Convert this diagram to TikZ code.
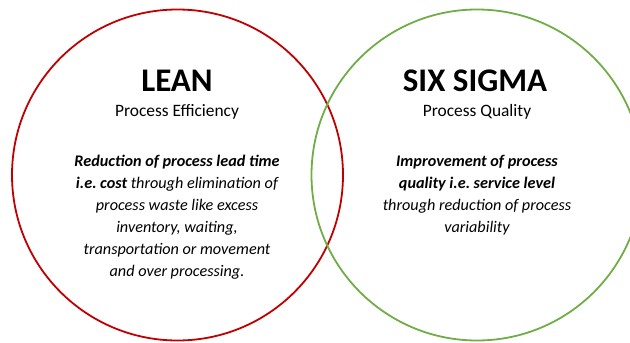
\documentclass[tikz,border=0pt]{standalone}
\usepackage{fontspec}
\setmainfont{Carlito}
\frenchspacing
\definecolor{leanred}{HTML}{C00000}
\definecolor{sigmagreen}{HTML}{70AD47}
\begin{document}
\begin{tikzpicture}[x=1pt,y=-1pt,
  ring/.style={draw, line width=1.8pt, circle, minimum size=331pt, inner sep=0pt},
  title/.style={anchor=base, font=\fontsize{33}{36}\selectfont\bfseries},
  subtitle/.style={anchor=base, font=\fontsize{17.4}{20}\selectfont},
  body/.style={anchor=base, align=center, font=\fontsize{16.2}{22}\selectfont\itshape\frenchspacing, inner sep=0pt}]
\useasboundingbox (0,0) rectangle (630,343);
\clip (0,0) rectangle (630,343);
\node[ring, draw=leanred] (lean) at (177.5,175) {};
\node[ring, draw=sigmagreen] (sigma) at (477,175) {};
\node[title] (leant) at (177,91) {LEAN};
\node[subtitle] (leans) at (177,116) {Process Efficiency};
\node[body] (leanb) at (177,276) {\textbf{Reduction of process lead time}\\\textbf{i.e. cost} through elimination of\\process waste like excess\\inventory, waiting,\\transportation or movement\\and over processing.};
\node[title] (sigmat) at (475,91) {SIX SIGMA};
\node[subtitle] (sigmas) at (477,116) {Process Quality};
\node[body] (sigmab) at (477,232) {\textbf{Improvement of process}\\\textbf{quality i.e. service level}\\through reduction of process\\variability};
\end{tikzpicture}
\end{document}
